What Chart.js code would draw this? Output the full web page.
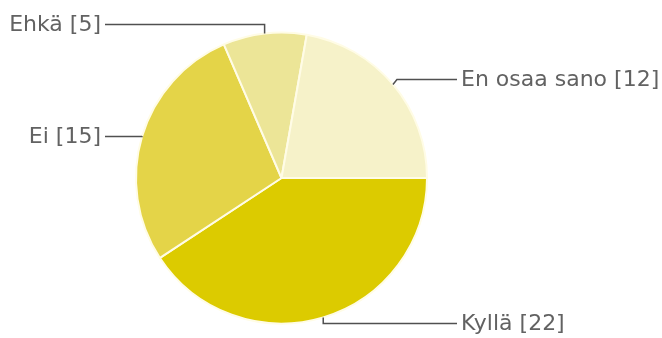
<!DOCTYPE html>
<html>
<head>
<meta charset="utf-8">
<script src="https://cdn.jsdelivr.net/npm/chart.js@4"></script>
<style>
  html, body { margin: 0; padding: 0; background: #fff; }
  #wrap { width: 662px; height: 338px; }
</style>
</head>
<body>
<div id="wrap"><canvas id="pieChart"></canvas></div>
<script>
const answers = ["Kyllä", "Ei", "Ehkä", "En osaa sano"];
const counts = [22, 15, 5, 12];
const sliceColors = ["#dccb00", "#e4d448", "#ece597", "#f6f2c9"];

// vertical nudge of each label relative to the slice edge point
const labelShift = [6, 0, -9, -5];

// draws "Name [n]" labels with elbow leader lines
const calloutPlugin = {
  id: "callouts",
  afterDatasetsDraw(chart) {
    const ctx = chart.ctx;
    const arcs = chart.getDatasetMeta(0).data;
    ctx.save();
    ctx.font = "22px 'DejaVu Sans'";
    ctx.textBaseline = "middle";
    arcs.forEach((arc, i) => {
      const mid = (arc.startAngle + arc.endAngle) / 2;
      const ax = arc.x + Math.cos(mid) * arc.outerRadius;
      const ay = arc.y + Math.sin(mid) * arc.outerRadius;
      const ly = Math.round(ay + labelShift[i]) + 0.5;
      const right = Math.cos(mid) > 0.2;
      const text = answers[i] + " [" + counts[i] + "]";

      const textX = right ? 461 : 101;
      const lineEnd = right ? textX - 4 : textX + 4;

      ctx.strokeStyle = "#505050";
      ctx.lineWidth = 1.5;
      ctx.beginPath();
      ctx.moveTo(ax, ay);
      if (right && Math.sin(mid) < 0) {
        ctx.lineTo(ax + 4, ly);
      } else {
        ctx.lineTo(ax, ly);
      }
      ctx.lineTo(lineEnd, ly);
      ctx.stroke();

      ctx.fillStyle = "#626262";
      ctx.textAlign = right ? "left" : "right";
      ctx.fillText(text, textX, ly + 1);
    });
    ctx.restore();
  }
};

const ctx = document.getElementById("pieChart").getContext("2d");

new Chart(ctx, {
  type: "pie",
  data: {
    labels: answers,
    datasets: [
      {
        data: counts,
        backgroundColor: sliceColors,
        borderColor: "#fffce6",
        borderWidth: 2,
      },
    ],
  },
  options: {
    responsive: true,
    maintainAspectRatio: false,
    animation: false,
    rotation: 90,
    layout: {
      padding: { left: 135, right: 234, top: 31, bottom: 13 },
    },
    plugins: {
      legend: { display: false },
      tooltip: { enabled: false },
    },
  },
  plugins: [calloutPlugin],
});
</script>
</body>
</html>
